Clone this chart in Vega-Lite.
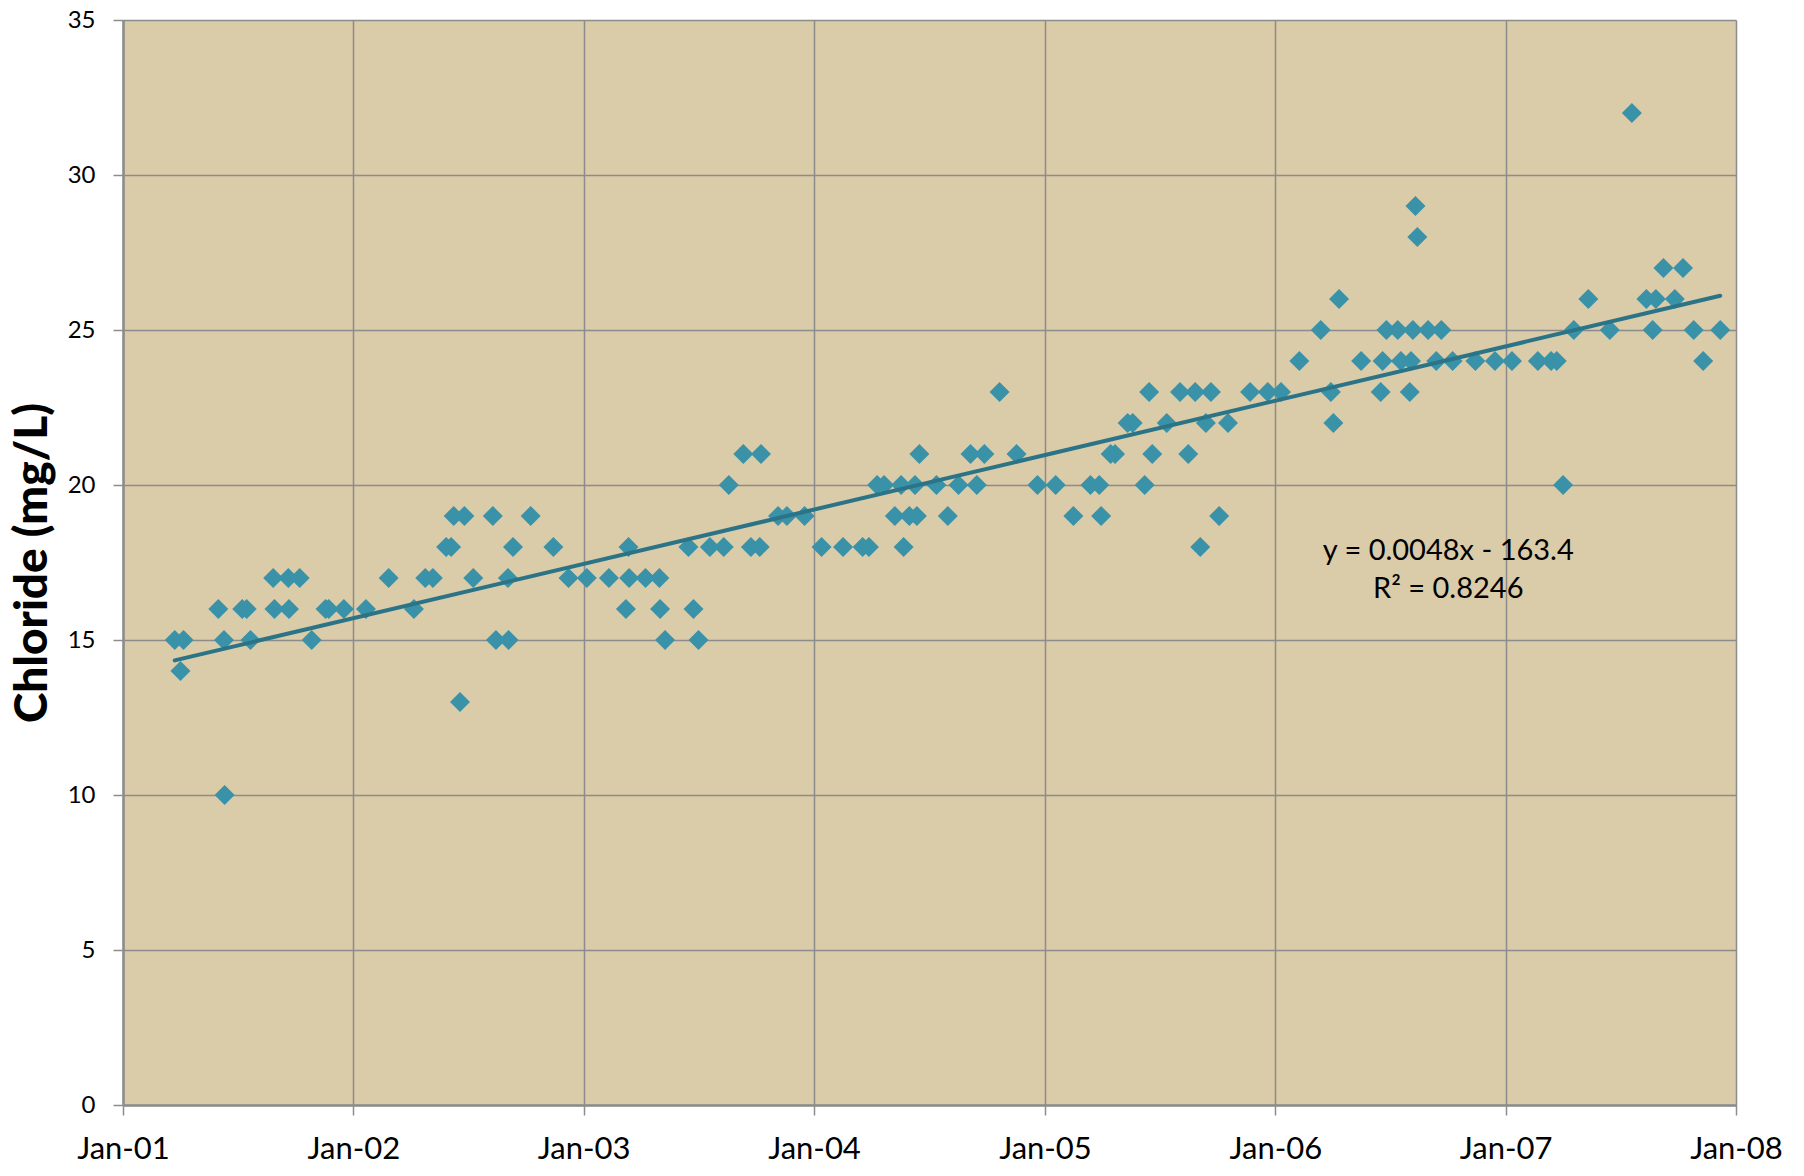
{
  "$schema": "https://vega.github.io/schema/vega-lite/v6.json",
  "width": 1613,
  "height": 1085,
  "autosize": {"type": "none"},
  "padding": {"left": 123, "top": 20, "right": 68, "bottom": 71},
  "background": "white",
  "config": {
    "view": {"fill": "#DACBA9", "stroke": null},
    "font": "Lato",
    "axis": {
      "grid": true,
      "gridColor": "#8C8C8C",
      "gridWidth": 1.5,
      "domainColor": "#8C8C8C",
      "domainWidth": 2.5,
      "tickColor": "#8C8C8C",
      "tickWidth": 1.5,
      "tickSize": 10,
      "labelFont": "Lato",
      "labelColor": "#000000",
      "titleFont": "Lato",
      "titleColor": "#000000"
    }
  },
  "data": {
    "values": [
      {"date": "2001-03-24", "chloride": 15},
      {"date": "2001-04-02", "chloride": 14},
      {"date": "2001-04-07", "chloride": 15},
      {"date": "2001-06-01", "chloride": 16},
      {"date": "2001-06-10", "chloride": 15},
      {"date": "2001-06-11", "chloride": 10},
      {"date": "2001-07-09", "chloride": 16},
      {"date": "2001-07-16", "chloride": 16},
      {"date": "2001-07-22", "chloride": 15},
      {"date": "2001-08-27", "chloride": 17},
      {"date": "2001-08-29", "chloride": 16},
      {"date": "2001-09-20", "chloride": 17},
      {"date": "2001-09-21", "chloride": 16},
      {"date": "2001-10-08", "chloride": 17},
      {"date": "2001-10-27", "chloride": 15},
      {"date": "2001-11-18", "chloride": 16},
      {"date": "2001-11-23", "chloride": 16},
      {"date": "2001-12-17", "chloride": 16},
      {"date": "2002-01-21", "chloride": 16},
      {"date": "2002-02-26", "chloride": 17},
      {"date": "2002-04-07", "chloride": 16},
      {"date": "2002-04-25", "chloride": 17},
      {"date": "2002-05-07", "chloride": 17},
      {"date": "2002-05-28", "chloride": 18},
      {"date": "2002-06-05", "chloride": 18},
      {"date": "2002-06-09", "chloride": 19},
      {"date": "2002-06-19", "chloride": 13},
      {"date": "2002-06-26", "chloride": 19},
      {"date": "2002-07-10", "chloride": 17},
      {"date": "2002-08-10", "chloride": 19},
      {"date": "2002-08-15", "chloride": 15},
      {"date": "2002-09-03", "chloride": 17},
      {"date": "2002-09-04", "chloride": 15},
      {"date": "2002-09-11", "chloride": 18},
      {"date": "2002-10-09", "chloride": 19},
      {"date": "2002-11-14", "chloride": 18},
      {"date": "2002-12-08", "chloride": 17},
      {"date": "2003-01-06", "chloride": 17},
      {"date": "2003-02-10", "chloride": 17},
      {"date": "2003-03-09", "chloride": 16},
      {"date": "2003-03-13", "chloride": 18},
      {"date": "2003-03-14", "chloride": 17},
      {"date": "2003-04-09", "chloride": 17},
      {"date": "2003-05-01", "chloride": 17},
      {"date": "2003-05-02", "chloride": 16},
      {"date": "2003-05-10", "chloride": 15},
      {"date": "2003-06-16", "chloride": 18},
      {"date": "2003-06-24", "chloride": 16},
      {"date": "2003-07-02", "chloride": 15},
      {"date": "2003-07-20", "chloride": 18},
      {"date": "2003-08-11", "chloride": 18},
      {"date": "2003-08-19", "chloride": 20},
      {"date": "2003-09-11", "chloride": 21},
      {"date": "2003-09-23", "chloride": 18},
      {"date": "2003-10-07", "chloride": 18},
      {"date": "2003-10-09", "chloride": 21},
      {"date": "2003-11-05", "chloride": 19},
      {"date": "2003-11-19", "chloride": 19},
      {"date": "2003-12-17", "chloride": 19},
      {"date": "2004-01-13", "chloride": 18},
      {"date": "2004-02-16", "chloride": 18},
      {"date": "2004-03-18", "chloride": 18},
      {"date": "2004-03-28", "chloride": 18},
      {"date": "2004-04-10", "chloride": 20},
      {"date": "2004-04-21", "chloride": 20},
      {"date": "2004-05-08", "chloride": 19},
      {"date": "2004-05-18", "chloride": 20},
      {"date": "2004-05-22", "chloride": 18},
      {"date": "2004-05-31", "chloride": 19},
      {"date": "2004-06-09", "chloride": 20},
      {"date": "2004-06-12", "chloride": 19},
      {"date": "2004-06-16", "chloride": 21},
      {"date": "2004-07-13", "chloride": 20},
      {"date": "2004-07-31", "chloride": 19},
      {"date": "2004-08-17", "chloride": 20},
      {"date": "2004-09-05", "chloride": 21},
      {"date": "2004-09-15", "chloride": 20},
      {"date": "2004-09-27", "chloride": 21},
      {"date": "2004-10-21", "chloride": 23},
      {"date": "2004-11-17", "chloride": 21},
      {"date": "2004-12-20", "chloride": 20},
      {"date": "2005-01-18", "chloride": 20},
      {"date": "2005-02-15", "chloride": 19},
      {"date": "2005-03-14", "chloride": 20},
      {"date": "2005-03-28", "chloride": 20},
      {"date": "2005-03-31", "chloride": 19},
      {"date": "2005-04-15", "chloride": 21},
      {"date": "2005-04-22", "chloride": 21},
      {"date": "2005-05-12", "chloride": 22},
      {"date": "2005-05-20", "chloride": 22},
      {"date": "2005-06-08", "chloride": 20},
      {"date": "2005-06-15", "chloride": 23},
      {"date": "2005-06-20", "chloride": 21},
      {"date": "2005-07-13", "chloride": 22},
      {"date": "2005-08-03", "chloride": 23},
      {"date": "2005-08-16", "chloride": 21},
      {"date": "2005-08-27", "chloride": 23},
      {"date": "2005-09-04", "chloride": 18},
      {"date": "2005-09-13", "chloride": 22},
      {"date": "2005-09-21", "chloride": 23},
      {"date": "2005-10-04", "chloride": 19},
      {"date": "2005-10-18", "chloride": 22},
      {"date": "2005-11-22", "chloride": 23},
      {"date": "2005-12-20", "chloride": 23},
      {"date": "2006-01-10", "chloride": 23},
      {"date": "2006-02-08", "chloride": 24},
      {"date": "2006-03-14", "chloride": 25},
      {"date": "2006-03-30", "chloride": 23},
      {"date": "2006-04-03", "chloride": 22},
      {"date": "2006-04-12", "chloride": 26},
      {"date": "2006-05-17", "chloride": 24},
      {"date": "2006-06-17", "chloride": 23},
      {"date": "2006-06-20", "chloride": 24},
      {"date": "2006-06-26", "chloride": 25},
      {"date": "2006-07-14", "chloride": 25},
      {"date": "2006-07-19", "chloride": 24},
      {"date": "2006-08-02", "chloride": 23},
      {"date": "2006-08-04", "chloride": 24},
      {"date": "2006-08-07", "chloride": 25},
      {"date": "2006-08-11", "chloride": 29},
      {"date": "2006-08-14", "chloride": 28},
      {"date": "2006-08-31", "chloride": 25},
      {"date": "2006-09-13", "chloride": 24},
      {"date": "2006-09-21", "chloride": 25},
      {"date": "2006-10-09", "chloride": 24},
      {"date": "2006-11-14", "chloride": 24},
      {"date": "2006-12-15", "chloride": 24},
      {"date": "2007-01-11", "chloride": 24},
      {"date": "2007-02-21", "chloride": 24},
      {"date": "2007-03-14", "chloride": 24},
      {"date": "2007-03-23", "chloride": 24},
      {"date": "2007-04-02", "chloride": 20},
      {"date": "2007-04-19", "chloride": 25},
      {"date": "2007-05-12", "chloride": 26},
      {"date": "2007-06-15", "chloride": 25},
      {"date": "2007-07-20", "chloride": 32},
      {"date": "2007-08-12", "chloride": 26},
      {"date": "2007-08-22", "chloride": 25},
      {"date": "2007-08-27", "chloride": 26},
      {"date": "2007-09-08", "chloride": 27},
      {"date": "2007-09-26", "chloride": 26},
      {"date": "2007-10-09", "chloride": 27},
      {"date": "2007-10-26", "chloride": 25},
      {"date": "2007-11-10", "chloride": 24},
      {"date": "2007-12-07", "chloride": 25}
    ],
    "format": {"parse": {"date": "date"}}
  },
  "layer": [
    {
      "mark": {"type": "point", "shape": "diamond", "filled": true, "size": 400, "color": "#3A92A9", "opacity": 1, "strokeWidth": 0},
      "encoding": {
        "x": {
          "field": "date",
          "type": "temporal",
          "scale": {"domain": [{"year": 2001, "month": 1, "date": 1}, {"year": 2008, "month": 1, "date": 1}], "nice": false},
          "axis": {
            "title": null,
            "format": "%b-%y",
            "values": [
              {"year": 2001, "month": 1, "date": 1},
              {"year": 2002, "month": 1, "date": 1},
              {"year": 2003, "month": 1, "date": 1},
              {"year": 2004, "month": 1, "date": 1},
              {"year": 2005, "month": 1, "date": 1},
              {"year": 2006, "month": 1, "date": 1},
              {"year": 2007, "month": 1, "date": 1},
              {"year": 2008, "month": 1, "date": 1}
            ],
            "labelFontSize": 31,
            "labelPadding": 19,
            "labelFlush": false,
            "labelOverlap": false
          }
        },
        "y": {
          "field": "chloride",
          "type": "quantitative",
          "scale": {"domain": [0, 35], "nice": false},
          "axis": {
            "title": "Chloride (mg/L)",
            "values": [0, 5, 10, 15, 20, 25, 30, 35],
            "labelFontSize": 24,
            "labelPadding": 18,
            "titleFontSize": 46,
            "titleFontWeight": 900,
            "titlePadding": 11
          }
        }
      }
    },
    {
      "transform": [{"regression": "chloride", "on": "date"}],
      "mark": {"type": "line", "color": "#2B7488", "strokeWidth": 4, "strokeCap": "round"},
      "encoding": {
        "x": {"field": "date", "type": "temporal"},
        "y": {"field": "chloride", "type": "quantitative"}
      }
    },
    {
      "data": {"values": [{}]},
      "mark": {"type": "text", "font": "Lato", "fontSize": 29, "color": "#000000", "align": "center", "baseline": "middle", "lineHeight": 38},
      "encoding": {
        "x": {"datum": {"year": 2006, "month": 10, "date": 2}, "type": "temporal"},
        "y": {"datum": 17.86, "type": "quantitative"},
        "text": {"value": ["y = 0.0048x - 163.4", "R² = 0.8246"]}
      }
    }
  ]
}
